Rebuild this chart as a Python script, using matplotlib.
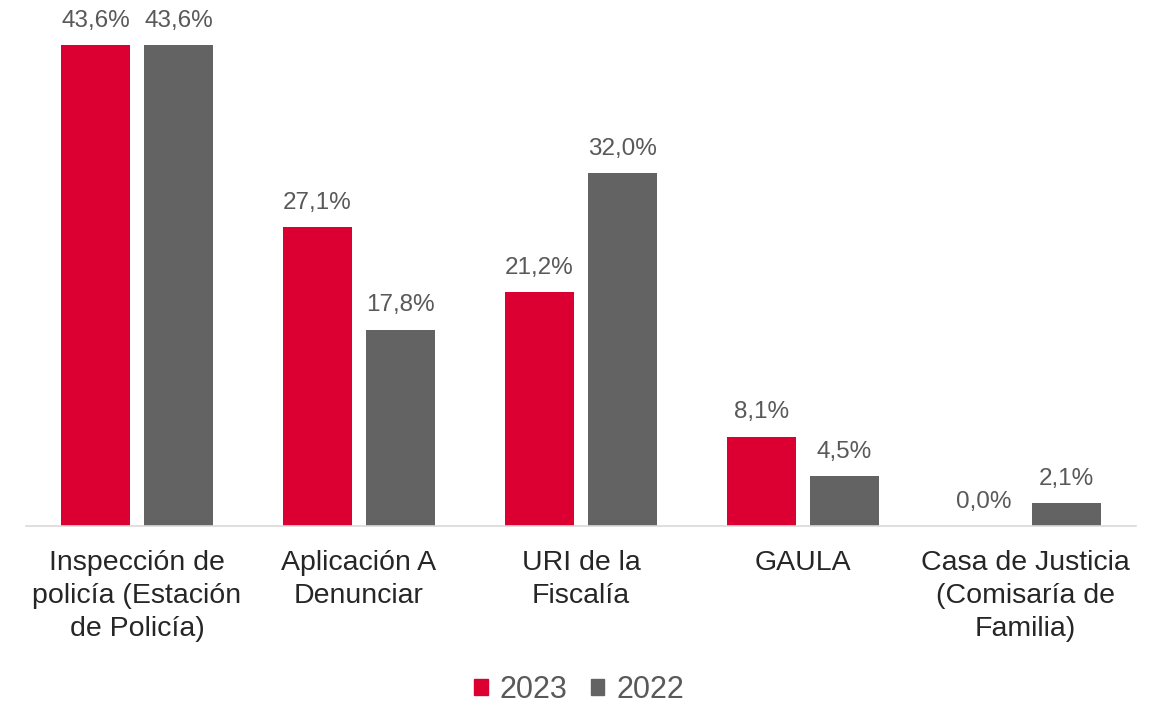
import matplotlib
matplotlib.use("Agg")
from matplotlib import pyplot as plt
from matplotlib.patches import Patch

plt.rcParams['font.family'] = ['Liberation Sans', 'DejaVu Sans']

categories = ["Inspección de\npolicía (Estación\nde Policía)",
              "Aplicación A\nDenunciar",
              "URI de la\nFiscalía",
              "GAULA",
              "Casa de Justicia\n(Comisaría de\nFamilia)"]
vals_2023 = [43.6, 27.1, 21.2, 8.1, 0.0]
vals_2022 = [43.6, 17.8, 32.0, 4.5, 2.1]

red = "#DC0032"
grey = "#636363"
txt = "#595959"

fig = plt.figure(figsize=(11.58, 7.04), dpi=100)
ax = fig.add_axes([26 / 1158, 178 / 704, 1110 / 1158, 526 / 704])

x = list(range(len(categories)))
w = 0.31
off = (w + 0.063) / 2
b1 = ax.bar([i - off for i in x], vals_2023, w, color=red)
b2 = ax.bar([i + off for i in x], vals_2022, w, color=grey)

for bars, vals in ((b1, vals_2023), (b2, vals_2022)):
    for b, v in zip(bars, vals):
        ax.text(b.get_x() + b.get_width() / 2, v + 1.2,
                f"{v:.1f}%".replace(".", ","), ha="center", va="bottom",
                fontsize=17.5, color=txt)

ax.set_xlim(-0.5, 4.5)
ax.set_ylim(0, 47.7)
ax.set_xticks(x)
ax.set_xticklabels(categories, fontsize=20.5, color="#262626", linespacing=1.35)
ax.tick_params(axis="x", length=0, pad=17)
ax.set_yticks([])
for s in ("top", "right", "left"):
    ax.spines[s].set_visible(False)
ax.spines["bottom"].set_color("#D9D9D9")
ax.spines["bottom"].set_linewidth(1.2)

handles = [Patch(color=red, label="2023"), Patch(color=grey, label="2022")]
fig.legend(handles=handles, loc="center", bbox_to_anchor=(0.5, 14 / 704), ncol=2,
           frameon=False, fontsize=22, labelcolor=txt, handlelength=0.45,
           handleheight=0.45, handletextpad=0.4, columnspacing=0.75)

fig.savefig("out.png", dpi=100)
